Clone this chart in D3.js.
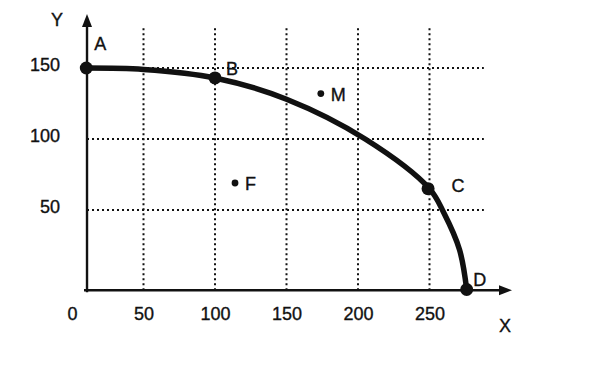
<!DOCTYPE html>
<html><head><meta charset="utf-8">
<script src="https://cdn.jsdelivr.net/npm/d3@7"></script>
<style>body{margin:0;background:#fff}svg{display:block}text{font-family:Arial,"Liberation Sans",sans-serif;fill:#111;stroke:#111;stroke-width:0.35px}</style>
</head><body>
<svg id="c" width="606" height="391"></svg>
<script>
// Data
const curveX = [10, 50, 100, 150, 205, 250, 260, 271, 276];
const curveY = [150, 149, 143, 128, 100, 65, 48, 22, -6];
const keyNames = ["A", "B", "C", "D"];
const keyX = [10, 100, 249, 276];
const keyY = [150, 143, 65, -6];
const otherNames = ["M", "F"];
const otherX = [174, 114];
const otherY = [132, 69];
const xTicks = [0, 50, 100, 150, 200, 250];
const yTicks = [50, 100, 150];
const gridX = [50, 100, 150, 200, 250];
const gridY = [50, 100, 150];

const svg = d3.select("#c");
const x = d3.scaleLinear().domain([0, 300]).range([72, 501]);
const y = d3.scaleLinear().domain([0, 150]).range([281, 68]);
const axisXpos = 10.5, axisYpos = -6.5;

// grid
const g = svg.append("g").attr("stroke", "#111").attr("stroke-width", 2).attr("stroke-dasharray", "2,3");
gridX.forEach(v => g.append("line").attr("x1", x(v)).attr("x2", x(v)).attr("y1", y(axisYpos)).attr("y2", y(178)));
gridY.forEach(v => g.append("line").attr("x1", x(axisXpos)).attr("x2", x(288)).attr("y1", y(v)).attr("y2", y(v)));

// axes lines
svg.append("line").attr("x1", x(axisXpos)).attr("x2", x(axisXpos)).attr("y1", y(axisYpos) + 2).attr("y2", 22)
  .attr("stroke", "#111").attr("stroke-width", 2.4);
svg.append("path").attr("d", `M${x(axisXpos)},14 L${x(axisXpos)-5},27 L${x(axisXpos)+5},27 Z`).attr("fill", "#111");
svg.append("line").attr("x1", x(axisXpos) - 3).attr("x2", 500).attr("y1", y(axisYpos)).attr("y2", y(axisYpos))
  .attr("stroke", "#111").attr("stroke-width", 2.4);
svg.append("path").attr("d", `M512,${y(axisYpos)} L499,${y(axisYpos)-5} L499,${y(axisYpos)+5} Z`).attr("fill", "#111");

// tick labels via axes
const ax = svg.append("g").attr("transform", "translate(0,307)")
  .call(d3.axisBottom(x).tickValues(xTicks).tickSize(0).tickPadding(0).tickFormat(d3.format("d")));
ax.select(".domain").remove();
ax.selectAll("text").attr("font-size", 18).attr("font-family", "Arial, 'Liberation Sans', sans-serif").attr("fill", "#111");
const ay = svg.append("g").attr("transform", "translate(60,0)")
  .call(d3.axisLeft(y).tickValues(yTicks).tickSize(0).tickPadding(0).tickFormat(d3.format("d")));
ay.select(".domain").remove();
ay.selectAll("text").attr("font-size", 18).attr("font-family", "Arial, 'Liberation Sans', sans-serif").attr("fill", "#111");
ay.selectAll(".tick").attr("transform", d => `translate(0,${y(d) - 3})`);

// axis titles
svg.append("text").attr("x", 57).attr("y", 26).attr("text-anchor", "middle").attr("font-size", 18).text("Y");
svg.append("text").attr("x", 505).attr("y", 332).attr("text-anchor", "middle").attr("font-size", 18).text("X");

// curve
const pts = curveX.map((v, i) => [x(v), y(curveY[i])]);
svg.append("path").attr("d", d3.line().curve(d3.curveCatmullRom.alpha(0.5))(pts))
  .attr("fill", "none").attr("stroke", "#111").attr("stroke-width", 5.5).attr("stroke-linecap", "round");

// key points
keyNames.forEach((n, i) => svg.append("circle").attr("cx", x(keyX[i])).attr("cy", y(keyY[i])).attr("r", 6.5).attr("fill", "#111"));
const keyLabelDx = [14, 17, 30, 13], keyLabelDy = [-18, -3, 3, -4];
keyNames.forEach((n, i) => svg.append("text").attr("x", x(keyX[i]) + keyLabelDx[i]).attr("y", y(keyY[i]) + keyLabelDy[i])
  .attr("text-anchor", "middle").attr("font-size", 18).text(n));

// other points
otherNames.forEach((n, i) => {
  svg.append("circle").attr("cx", x(otherX[i])).attr("cy", y(otherY[i])).attr("r", 3.4).attr("fill", "#111");
  svg.append("text").attr("x", x(otherX[i]) + 10).attr("y", y(otherY[i]) + 7).attr("font-size", 18).text(n);
});
</script>
</body></html>
